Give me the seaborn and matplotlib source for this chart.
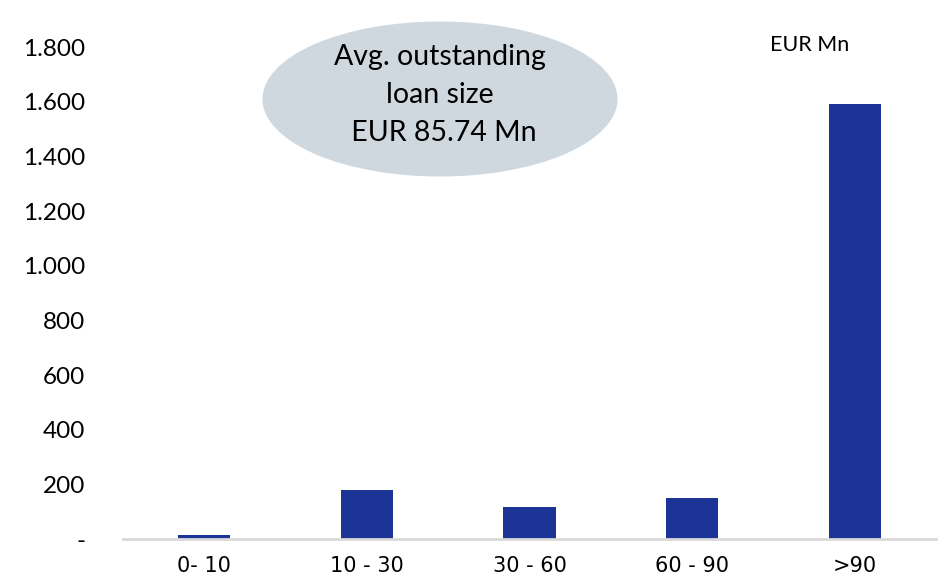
import matplotlib
matplotlib.use("Agg")
import matplotlib.pyplot as plt
from matplotlib.patches import Ellipse
import seaborn as sns
import pandas as pd

categories = ["0- 10", "10 - 30", "30 - 60", "60 - 90", ">90"]
values = [14, 179, 116, 150, 1591]
y_ticks = [0, 200, 400, 600, 800, 1000, 1200, 1400, 1600, 1800]
y_tick_labels = ["-", "200", "400", "600", "800", "1.000", "1.200", "1.400", "1.600", "1.800"]
unit_label = "EUR Mn"
bubble_text = "Avg. outstanding\nloan size\n EUR 85.74 Mn"

sns.set_theme(style="white")
plt.rcParams['font.family'] = ['Lato', 'DejaVu Sans']

df = pd.DataFrame({"cat": categories, "val": values})

fig = plt.figure(figsize=(9.4, 5.82), dpi=100)
ax = fig.add_axes([123/940, 1-539/582, (936-123)/940, (539-47)/582])
sns.barplot(data=df, x="cat", y="val", color="#1B3495", width=0.32, ax=ax,
            saturation=1, edgecolor="none")
ax.set_xlim(-0.5, 4.5)
ax.set_ylim(0, 1800)
ax.set_yticks(y_ticks)
ax.set_yticklabels(y_tick_labels)
ax.tick_params(axis='y', length=0, pad=27, labelsize=17.5, labelcolor="#000000")
ax.tick_params(axis='x', length=0, pad=12, labelsize=15, labelcolor="#000000",
               labelfontfamily='Liberation Sans Narrow')
ax.set_xlabel("")
ax.set_ylabel("")
for s in ["top", "right", "left"]:
    ax.spines[s].set_visible(False)
ax.spines["bottom"].set_color("#D9D9D9")
ax.spines["bottom"].set_linewidth(2)
ax.spines["bottom"].set_position(("data", 0))

ell = Ellipse((440/940, 1-99/582), 355/940, 155/582, transform=fig.transFigure,
              facecolor="#CFD7DF", edgecolor="none", zorder=5)
fig.add_artist(ell)
fig.text(440/940, 1-95/582, bubble_text, ha="center", va="center", fontsize=20.5,
         linespacing=1.55, color="#000000", zorder=6)
fig.text(770/940, 1-45/582, unit_label, ha="left", va="center", fontsize=15.5, color="#000000")

fig.savefig("out.png", dpi=100)
